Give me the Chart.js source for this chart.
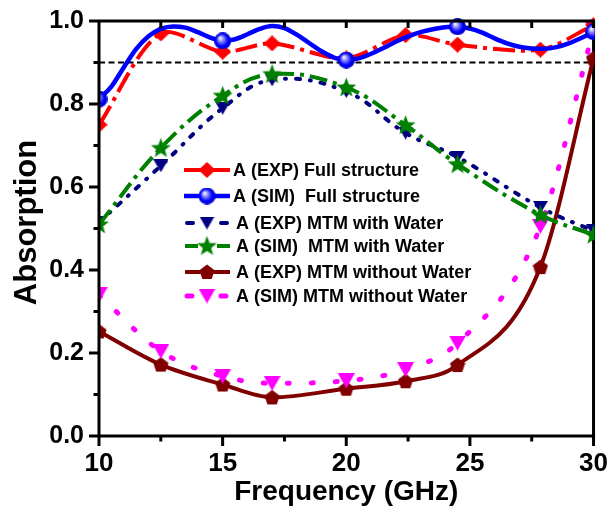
<!DOCTYPE html>
<html>
<head>
<meta charset="utf-8">
<script src="https://cdn.jsdelivr.net/npm/chart.js@4.4.0/dist/chart.umd.min.js"></script>
<style>
  html, body { margin: 0; padding: 0; background: #fff; }
</style>
</head>
<body>
<canvas id="absChart" width="611" height="517"></canvas>
<script>
// measurement frequencies (GHz), shared by the marker series
const freqMeas = [10, 12.5, 15, 17, 20, 22.4, 24.5, 27.85, 30];
const expFull  = [0.75, 0.97, 0.926, 0.946, 0.91, 0.966, 0.943, 0.931, 0.99];
const expWater = [0.515, 0.651, 0.79, 0.858, 0.83, 0.73, 0.672, 0.551, 0.494];
const simWater = [0.51, 0.694, 0.82, 0.872, 0.84, 0.749, 0.655, 0.533, 0.485];
const expDry   = [0.252, 0.172, 0.124, 0.093, 0.114, 0.132, 0.171, 0.407, 0.91];
const simDry   = [0.34, 0.204, 0.144, 0.127, 0.133, 0.16, 0.224, 0.505, 0.98];

// full structure simulation, finer sweep
const freqSim = [10, 10.5, 11, 11.5, 12, 12.5, 13, 13.5, 14, 14.5, 15, 15.5, 16, 16.5, 17, 17.5,
  18, 18.5, 19, 19.5, 20, 20.5, 21, 21.5, 22, 22.5, 23, 23.5, 24, 24.5, 25, 25.5, 26, 26.5,
  27, 27.5, 28, 28.5, 29, 29.5, 30];
const simFull = [0.812, 0.842, 0.888, 0.932, 0.963, 0.981, 0.987, 0.984, 0.973, 0.96, 0.952,
  0.956, 0.968, 0.981, 0.988, 0.983, 0.967, 0.947, 0.927, 0.912, 0.906, 0.91, 0.921, 0.935,
  0.95, 0.963, 0.973, 0.98, 0.985, 0.986, 0.982, 0.972, 0.958, 0.946, 0.938, 0.934, 0.933,
  0.937, 0.946, 0.959, 0.974];
const simFullMarked = [10, 15, 20, 24.5, 30];

// 90 % reference level
const refFreq = [10, 30];
const refLevel = [0.9, 0.9];

const labels = [
  'A (EXP) Full structure',
  'A (SIM)  Full structure',
  'A (EXP) MTM with Water',
  'A (SIM)  MTM with Water',
  'A (EXP) MTM without Water',
  'A (SIM) MTM without Water'
];
const yTitle = 'Absorption';
const xTitle = 'Frequency (GHz)';

const FONT = "'Liberation Sans', Arial, Helvetica, sans-serif";
Chart.defaults.font.family = FONT;
Chart.defaults.color = '#000';

// --- marker bitmaps ---
function makeMarker(w, h, paint) {
  const c = document.createElement('canvas');
  c.width = w; c.height = h;
  paint(c.getContext('2d'), w, h);
  return c;
}
const mkDiamond = makeMarker(17, 16, (g, w, h) => {
  g.fillStyle = '#ff0000';
  g.beginPath();
  g.moveTo(w / 2, 0); g.lineTo(w, h / 2); g.lineTo(w / 2, h); g.lineTo(0, h / 2);
  g.closePath(); g.fill();
});
const mkSphere = makeMarker(17, 17, (g, w) => {
  const r = w / 2;
  const gr = g.createRadialGradient(r - 2.5, r - 3, 0.3, r, r, r);
  gr.addColorStop(0, '#ffffff');
  gr.addColorStop(0.3, '#8c8cff');
  gr.addColorStop(0.7, '#0000ff');
  gr.addColorStop(1, '#0000c8');
  g.fillStyle = gr;
  g.beginPath(); g.arc(r, r, r, 0, Math.PI * 2); g.fill();
});
function triDown(color, w, h) {
  return makeMarker(w, h, g => {
    g.fillStyle = color;
    g.beginPath(); g.moveTo(0, 0); g.lineTo(w, 0); g.lineTo(w / 2, h); g.closePath(); g.fill();
  });
}
const mkTriNavy = triDown('#000080', 15, 13);
const mkTriPink = triDown('#ff00ff', 17, 15);
function polygon(color, size, n, inner) {
  return makeMarker(size, size, (g, w) => {
    const c = w / 2, R = w / 2, pts = inner ? n * 2 : n;
    g.fillStyle = color;
    g.beginPath();
    for (let i = 0; i < pts; i++) {
      const a = -Math.PI / 2 + i * Math.PI * 2 / pts;
      const rr = inner && i % 2 ? R * inner : R;
      const px = c + rr * Math.cos(a), py = c + 0.6 + rr * Math.sin(a);
      i ? g.lineTo(px, py) : g.moveTo(px, py);
    }
    g.closePath(); g.fill();
  });
}
const mkStar = polygon('#008000', 21, 5, 0.42);
const mkPent = polygon('#800000', 16, 5, 0);

const pts = (xs, ys) => xs.map((x, i) => ({ x, y: ys[i] }));

const datasets = [
  { label: labels[1], data: pts(freqSim, simFull), borderColor: '#0000ff', borderWidth: 4.5,
    cubicInterpolationMode: 'monotone', pointStyle: mkSphere,
    pointRadius: c => simFullMarked.includes(freqSim[c.dataIndex]) ? 8 : 0, marker: mkSphere },
  { label: labels[0], data: pts(freqMeas, expFull), borderColor: '#ff0000', borderWidth: 4,
    borderDash: [22, 6, 4, 6], tension: 0.3, pointStyle: mkDiamond, pointRadius: 8, marker: mkDiamond },
  { label: labels[3], data: pts(freqMeas, simWater), borderColor: '#008000', borderWidth: 4,
    borderDash: [18, 6, 4, 6], tension: 0.4, pointStyle: mkStar, pointRadius: 10, marker: mkStar },
  { label: labels[2], data: pts(freqMeas, expWater), borderColor: '#000080', borderWidth: 4,
    borderDash: [4, 10, 1, 10], borderCapStyle: 'round', tension: 0.4, pointStyle: mkTriNavy,
    pointRadius: 8, marker: mkTriNavy },
  { label: labels[5], data: pts(freqMeas, simDry), borderColor: '#ff00ff', borderWidth: 5,
    borderDash: [2, 22], borderCapStyle: 'round', cubicInterpolationMode: 'monotone',
    pointStyle: mkTriPink, pointRadius: 9, marker: mkTriPink },
  { label: labels[4], data: pts(freqMeas, expDry), borderColor: '#800000', borderWidth: 4,
    cubicInterpolationMode: 'monotone', pointStyle: mkPent, pointRadius: 8, marker: mkPent },
  { label: 'ref', data: pts(refFreq, refLevel), borderColor: '#000', borderWidth: 2,
    borderDash: [6, 3.5], pointRadius: 0 }
];
datasets.forEach(d => {
  d.clip = { left: 0, right: 1, top: 8, bottom: 0 };
  d.fill = false;
  d.pointBorderWidth = 0;
});

// axes frame, tick marks and the vertical axis title
const frame = {
  id: 'frame',
  beforeDatasetsDraw(chart) {
    const { ctx, chartArea: a } = chart;
    ctx.save();
    ctx.strokeStyle = '#000'; ctx.lineWidth = 3;
    ctx.beginPath(); ctx.moveTo(a.right, a.top - 1.5); ctx.lineTo(a.right, a.bottom + 1.5); ctx.stroke();
    ctx.restore();
  },
  afterDatasetsDraw(chart) {
    const { ctx, chartArea: a, scales: { x, y } } = chart;
    ctx.save();
    ctx.strokeStyle = '#000'; ctx.lineWidth = 3;
    ctx.beginPath();
    ctx.moveTo(a.left, a.top - 1.5); ctx.lineTo(a.left, a.bottom + 1.5);
    ctx.moveTo(a.left - 1.5, a.bottom); ctx.lineTo(a.right + 1.5, a.bottom);
    ctx.moveTo(a.left - 1.5, a.top); ctx.lineTo(a.right + 1.5, a.top);
    x.ticks.forEach(t => {
      const px = x.getPixelForValue(t.value);
      const major = Math.abs(t.value % 5) < 1e-6;
      ctx.moveTo(px, a.bottom); ctx.lineTo(px, a.bottom + (major ? 10 : 5.5));
      ctx.moveTo(px, a.top); ctx.lineTo(px, a.top + 7);
    });
    y.ticks.forEach(t => {
      const py = y.getPixelForValue(t.value);
      const major = Math.round(t.value * 10) % 2 === 0;
      ctx.moveTo(a.left, py); ctx.lineTo(a.left - (major ? 10 : 5.5), py);
    });
    ctx.stroke();

    ctx.translate(27, (a.top + a.bottom) / 2 - 6);
    ctx.rotate(-Math.PI / 2);
    ctx.fillStyle = '#000';
    ctx.font = 'bold 31px ' + FONT;
    ctx.textAlign = 'center';
    ctx.textBaseline = 'middle';
    ctx.fillText(yTitle, 0, 0);
    ctx.restore();
  }
};

// legend drawn inside the plot area
const legendRows = [
  { label: labels[0], y: 170, tx: 233, segs: [[184, 230]] },
  { label: labels[1], y: 196, tx: 233, segs: [[184, 230]] },
  { label: labels[2], y: 223, tx: 236, segs: [[187, 193], [221, 227]] },
  { label: labels[3], y: 246, tx: 236, segs: [[185, 198], [217, 230]] },
  { label: labels[4], y: 272, tx: 236, segs: [[185, 230]] },
  { label: labels[5], y: 296, tx: 236, segs: [[187, 192], [221, 226]] }
];
const insideLegend = {
  id: 'insideLegend',
  afterDraw(chart) {
    const { ctx } = chart;
    ctx.save();
    legendRows.forEach(row => {
      const ds = chart.data.datasets.find(d => d.label === row.label);
      ctx.strokeStyle = ds.borderColor;
      ctx.lineWidth = ds.borderWidth;
      ctx.lineCap = ds.borderCapStyle === 'round' ? 'round' : 'butt';
      ctx.setLineDash([]);
      ctx.beginPath();
      row.segs.forEach(s => { ctx.moveTo(s[0], row.y); ctx.lineTo(s[1], row.y); });
      ctx.stroke();
      const m = ds.marker;
      ctx.drawImage(m, 207 - m.width / 2, row.y - m.height / 2);
      ctx.fillStyle = '#000';
      ctx.font = 'bold 18px ' + FONT;
      ctx.textBaseline = 'middle';
      ctx.fillText(row.label, row.tx, row.y + 1);
    });
    ctx.restore();
  }
};

new Chart(document.getElementById('absChart'), {
  type: 'line',
  data: { datasets },
  options: {
    responsive: false,
    animation: false,
    layout: { padding: { top: 17, right: 14, left: 0, bottom: 0 } },
    plugins: { legend: { display: false }, tooltip: { enabled: false } },
    scales: {
      x: {
        type: 'linear', min: 10, max: 30,
        afterFit(s) { s.height = 81; },
        border: { display: false },
        grid: { drawOnChartArea: false, tickLength: 9, tickColor: 'rgba(0,0,0,0)' },
        ticks: {
          stepSize: 2.5, autoSkip: false, maxRotation: 0, padding: 3,
          font: { size: 26, weight: 'bold' },
          callback: v => Math.abs(v % 5) < 1e-6 ? String(v) : ''
        },
        title: { display: true, text: xTitle, font: { size: 28, weight: 'bold' },
                 padding: { top: 0, bottom: 8 } }
      },
      y: {
        min: 0, max: 1,
        afterFit(s) { s.width = 99; },
        border: { display: false },
        grid: { drawOnChartArea: false, tickLength: 9, tickColor: 'rgba(0,0,0,0)' },
        ticks: {
          stepSize: 0.1, autoSkip: false, padding: 6,
          font: { size: 25, weight: 'bold' },
          callback: v => Math.round(v * 10) % 2 === 0 ? v.toFixed(1) : ''
        }
      }
    }
  },
  plugins: [frame, insideLegend]
});
</script>
</body>
</html>
